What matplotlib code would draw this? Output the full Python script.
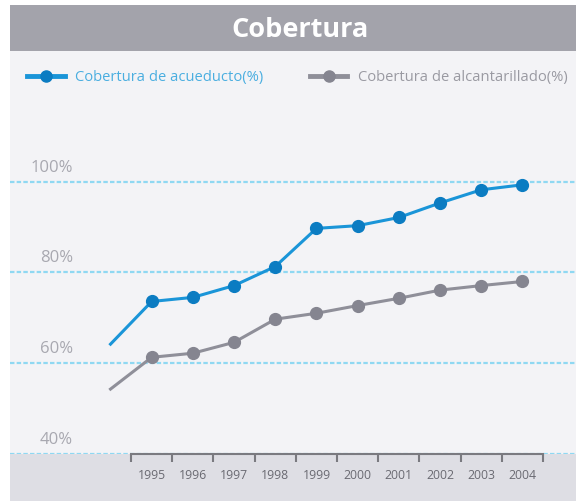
import matplotlib
matplotlib.use("Agg")
import matplotlib.pyplot as plt
from matplotlib.patches import Rectangle
from matplotlib.lines import Line2D
from matplotlib.transforms import offset_copy

# ---- data ----
years = ["", "1995", "1996", "1997", "1998", "1999", "2000", "2001", "2002", "2003", "2004"]
acueducto = [64.2, 73.6, 74.5, 77.1, 81.3, 89.7, 90.3, 92.1, 95.3, 98.2, 99.3]
alcantarillado = [54.3, 61.3, 62.2, 64.6, 69.7, 71.0, 72.7, 74.3, 76.1, 77.1, 78.0]
y_ticks = [40, 60, 80, 100]
y_tick_labels = ["40%", "60%", "80%", "100%"]
title = "Cobertura"
legend_labels = ["Cobertura de acueducto(%)", "Cobertura de alcantarillado(%)"]

BLUE = "#1a95d8"
BLUE_M = "#0b7cc2"
GRAY = "#8f8f99"
GRAY_M = "#858590"
FONT = "Open Sans"

W, H = 576, 502
fig = plt.figure(figsize=(W / 100, H / 100), dpi=100)
fig.patch.set_facecolor("white")

def fx(px):
    return px / W

def fy(py):
    return 1 - py / H

# background panels
fig.add_artist(Rectangle((fx(10), fy(455)), fx(566), (403) / H, transform=fig.transFigure,
                         facecolor="#f3f3f6", edgecolor="none", zorder=0))
fig.add_artist(Rectangle((fx(10), 0), fx(566), fy(455), transform=fig.transFigure,
                         facecolor="#dedee4", edgecolor="none", zorder=0))
# title bar
fig.add_artist(Rectangle((fx(10), fy(52)), fx(566), 46 / H, transform=fig.transFigure,
                         facecolor="#a3a3ab", edgecolor="none", zorder=1))
fig.text(fx(300), fy(30), title, ha="center", va="center", color="white",
         fontsize=19.5, fontweight="bold", family=FONT)

# legend
legend_items = [(27, 65, 75, BLUE, BLUE_M, "#4aaee0", legend_labels[0]),
                (310, 347, 358, GRAY, GRAY_M, "#9a9aa2", legend_labels[1])]
for x0, x1, xt, lc, mc, tc, lab in legend_items:
    fig.add_artist(Line2D([fx(x0), fx(x1)], [fy(77), fy(77)], transform=fig.transFigure,
                          color=lc, lw=3.5, zorder=3))
    fig.add_artist(Line2D([fx((x0 + x1) / 2)], [fy(77)], transform=fig.transFigure,
                          marker="o", ms=8, color=mc, mec=mc, zorder=4))
    fig.text(fx(xt), fy(77), lab, ha="left", va="center", color=tc, fontsize=10.6, family=FONT)

# plot axes
ax = fig.add_axes([fx(10), fy(455), fx(566), (455 - 100) / H])
ax.set_facecolor("none")
x = list(range(-1, len(years) - 1))
ax.set_xlim(-3.44, 10.30)
ax.set_ylim(40, 118.2)

ax.plot(x, acueducto, color=BLUE, lw=2.2, marker="o", ms=8.5, mfc=BLUE_M, mec=BLUE_M,
        markevery=list(range(1, len(x))), zorder=5, clip_on=False)
ax.plot(x, alcantarillado, color=GRAY, lw=2.2, marker="o", ms=8.5, mfc=GRAY_M, mec=GRAY_M,
        markevery=list(range(1, len(x))), zorder=5, clip_on=False)

for s in ["top", "right", "left"]:
    ax.spines[s].set_visible(False)
ax.spines["bottom"].set_bounds(-0.5, len(years) - 1.5)
ax.spines["bottom"].set_color("#7a7a80")
ax.spines["bottom"].set_linewidth(1.5)
ax.spines["bottom"].set_zorder(3)

# gridlines
ax.set_yticks(y_ticks)
ax.yaxis.grid(True, color="#8fd8f2", lw=1.6, linestyle=(0, (2, 1)))
ax.set_axisbelow(True)
ax.tick_params(axis="y", length=0, labelleft=False)
for v, lab in zip(y_ticks, y_tick_labels):
    tr = offset_copy(ax.get_yaxis_transform(), fig=fig, x=63, y=15, units="dots")
    ax.text(0, v, lab, transform=tr, ha="right", va="center", color="#a8a8b0",
            fontsize=12, family=FONT)

# x ticks: category boundaries, labels centered
ax.set_xticks([i - 0.5 for i in range(0, len(years))])
ax.set_xticklabels([])
ax.set_xticks(list(range(0, len(years) - 1)), minor=True)
ax.set_xticklabels(years[1:], minor=True)
ax.tick_params(axis="x", which="major", direction="out", length=6, width=1.5, color="#7a7a80")
ax.tick_params(axis="x", which="minor", length=0, pad=10, labelsize=8.8, labelcolor="#6a6a72")
for t in ax.get_xticklabels(minor=True):
    t.set_family(FONT)

fig.savefig("out.png", dpi=100)
